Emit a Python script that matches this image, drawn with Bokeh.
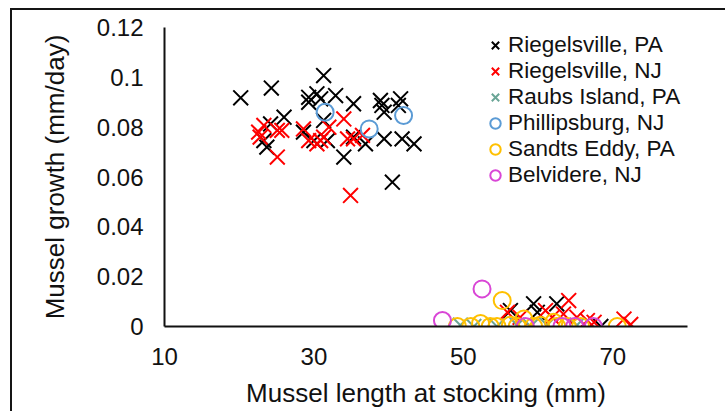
from bokeh.plotting import figure
from bokeh.models import Legend, LegendItem, FixedTicker
from bokeh.embed import file_html
from bokeh.resources import INLINE

# ---- data ----
series_names = ["Riegelsville, PA", "Riegelsville, NJ", "Raubs Island, PA",
                "Phillipsburg, NJ", "Sandts Eddy, PA", "Belvidere, NJ"]

rpa_x = [20.2, 24.3, 31.3, 29.3, 30.4, 29.3, 30.9, 32.9, 35.3, 38.9, 39.1, 41.6, 41.3, 39.4,
         26.0, 24.2, 23.3, 23.7, 28.6, 30.0, 31.8, 34.0, 35.3, 36.9, 39.4, 41.8, 43.4, 40.5, 31.3,
         59.4, 62.5, 56.3, 68.4, 59.9]
rpa_y = [0.0918, 0.0957, 0.1007, 0.092, 0.0934, 0.090, 0.0914, 0.0927, 0.0894, 0.0907, 0.0887,
         0.0914, 0.0887, 0.086, 0.084, 0.0813, 0.0746, 0.072, 0.078, 0.0746, 0.0746, 0.068, 0.076,
         0.0733, 0.0753, 0.0753, 0.0733, 0.0579, 0.0827,
         0.0091, 0.0091, 0.0064, 0.0, 0.0057]

rnj_x = [23.3, 22.6, 22.8, 25.1, 25.7, 25.1, 28.6, 29.3, 30.4, 30.9, 32.0, 34.0, 34.5, 35.3, 36.5,
         34.9, 31.3,
         64.1, 61.0, 55.9, 57.6, 61.9, 63.4, 71.5, 72.4, 67.5, 65.2, 66.6]
rnj_y = [0.0807, 0.078, 0.076, 0.0787, 0.0787, 0.068, 0.0793, 0.0746, 0.0733, 0.0746, 0.080,
         0.0833, 0.0753, 0.0753, 0.0767, 0.0526, 0.076,
         0.0104, 0.0064, 0.0057, 0.0037, 0.0037, 0.005, 0.003, 0.0008, 0.0017, 0.0037, 0.0024]

raubs_x = [49.6, 51.4, 54.5, 57.2, 61.2, 65.2, 59.0]
raubs_y = [0.0005, 0.0, 0.0, 0.0005, 0.0005, 0.0005, 0.0]

phil_x = [31.5, 37.4, 42.0]
phil_y = [0.086, 0.0793, 0.0847]

sandts_x = [55.2, 49.2, 51.0, 52.3, 53.6, 54.5, 56.3, 57.2, 58.1, 59.4, 60.3, 62.1, 62.5, 63.9,
            65.7, 70.6]
sandts_y = [0.0104, 0.0, 0.0, 0.0012, 0.0, 0.0, 0.0005, 0.0, 0.003, 0.0, 0.0005, 0.0017, 0.0,
            0.0, 0.0, 0.0]

belv_x = [47.2, 52.5, 58.3, 63.2, 64.9, 67.4]
belv_y = [0.0024, 0.0151, 0.0, 0.0, 0.0, 0.0]

x_ticks = [10, 30, 50, 70]
y_ticks = [0, 0.02, 0.04, 0.06, 0.08, 0.1, 0.12]
y_tick_labels = ["0", "0.02", "0.04", "0.06", "0.08", "0.1", "0.12"]

FONT = "Liberation Sans"

p = figure(width=725, height=411, output_backend="svg", toolbar_location=None,
           x_range=(10, 80), y_range=(0, 0.12),
           min_border_left=164, min_border_right=38, min_border_top=27, min_border_bottom=85)
p.grid.visible = False
p.outline_line_color = None
p.background_fill_color = None
p.border_fill_color = None
# page frame (left and top edges) drawn as inset shadows behind the transparent canvas
p.styles = {"box-shadow": "inset 10px 8px 0 0 #ffffff, inset 12px 10px 0 0 #151515"}

for ax in (p.xaxis[0], p.yaxis[0]):
    ax.axis_line_color = "#111111"
    ax.axis_line_width = 2
    ax.major_tick_line_color = None
    ax.minor_tick_line_color = None
    ax.major_label_text_font = FONT
    ax.major_label_text_font_size = "24px"
    ax.major_label_text_color = "#111111"
    ax.axis_label_text_font = FONT
    ax.axis_label_text_font_size = "26px"
    ax.axis_label_text_font_style = "normal"
    ax.axis_label_text_color = "#111111"

p.xaxis.major_label_standoff = 15
p.yaxis.major_label_standoff = 15
p.xaxis.ticker = FixedTicker(ticks=x_ticks)
p.yaxis.ticker = FixedTicker(ticks=y_ticks)
p.yaxis.major_label_overrides = {t: l for t, l in zip(y_ticks, y_tick_labels)}
p.xaxis.axis_label = "Mussel length at stocking (mm)"
p.yaxis.axis_label = "Mussel growth (mm/day)"
p.xaxis.axis_label_standoff = 10
p.yaxis.axis_label_standoff = 24

specs = [
    (rpa_x, rpa_y, "x", "#000000"),
    (rnj_x, rnj_y, "x", "#FF0000"),
    (raubs_x, raubs_y, "x", "#6AA596"),
    (phil_x, phil_y, "circle", "#5B9BD5"),
    (sandts_x, sandts_y, "circle", "#FFC000"),
    (belv_x, belv_y, "circle", "#D946D6"),
]

items = []
for (xs, ys, m, c), name in zip(specs, series_names):
    if m == "x":
        r = p.scatter(xs, ys, marker="x", size=21, line_color=c, line_width=2)
    else:
        r = p.scatter(xs, ys, marker="circle", size=17, line_color=c, line_width=2,
                      fill_color=None)
    items.append(LegendItem(label=name, renderers=[r]))

legend = Legend(items=items, location=(318, 138), orientation="vertical",
                background_fill_alpha=0, border_line_color=None,
                padding=0, spacing=0, margin=0,
                glyph_width=26, glyph_height=26, label_height=26, label_standoff=-2,
                label_text_font=FONT, label_text_font_size="22.5px", label_text_color="#111111")
p.add_layout(legend, "center")

open("out.html", "w").write(file_html(p, INLINE))
